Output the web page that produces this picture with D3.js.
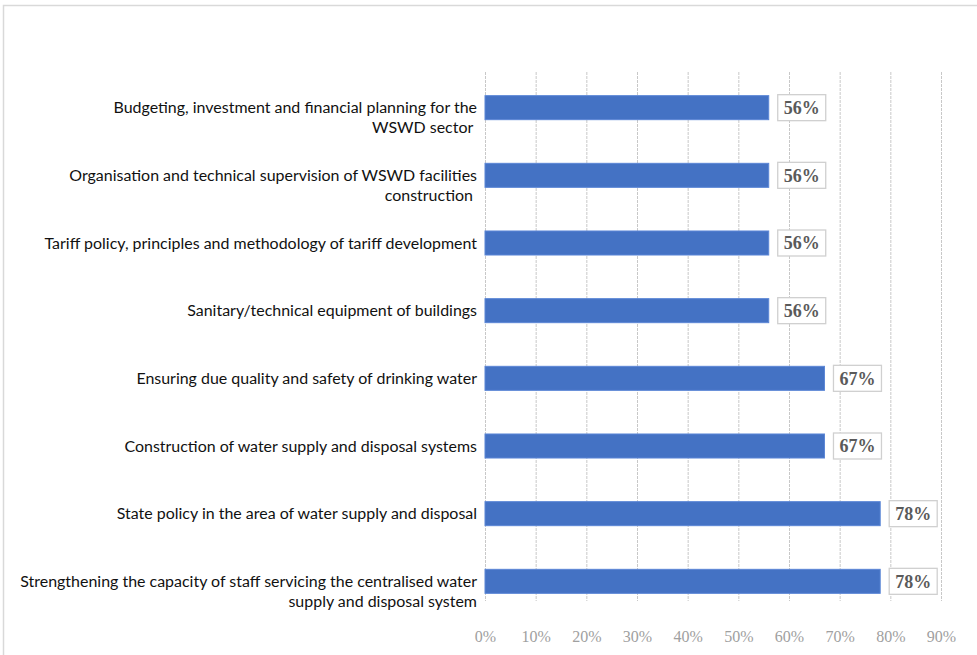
<!DOCTYPE html>
<html><head><meta charset="utf-8">
<script src="https://cdn.jsdelivr.net/npm/d3@7"></script>
<style>body{margin:0;background:#fff}svg{display:block}</style>
</head><body>
<svg id="chart" width="977" height="655"></svg>
<script>
const categories = [
  ["Budgeting, investment and financial planning for the", "WSWD sector "],
  ["Organisation and technical supervision of WSWD facilities", "construction "],
  ["Tariff policy, principles and methodology of tariff development"],
  ["Sanitary/technical equipment of buildings"],
  ["Ensuring due quality and safety of drinking water"],
  ["Construction of water supply and disposal systems"],
  ["State policy in the area of water supply and disposal"],
  ["Strengthening the capacity of staff servicing the centralised water", "supply and disposal system"]
];
const values = [56, 56, 56, 56, 67, 67, 78, 78];
const tickValues = [0, 10, 20, 30, 40, 50, 60, 70, 80, 90];
const tickLabels = ["0%", "10%", "20%", "30%", "40%", "50%", "60%", "70%", "80%", "90%"];

const svg = d3.select("#chart");
// frame
svg.append("path").attr("d", "M3.5,655 V5.5 H977").attr("fill", "none").attr("stroke", "#d9d9d9").attr("stroke-width", 1.5);

const x = d3.scaleLinear().domain([0, 90]).range([485, 941]);
const y = d3.scaleBand().domain(d3.range(categories.length)).range([74, 615]).paddingInner(0.645).paddingOuter(0.32);

// gridlines
svg.append("g").selectAll("line").data(tickValues).join("line")
  .attr("x1", d => x(d) + 0.5).attr("x2", d => x(d) + 0.5)
  .attr("y1", 72).attr("y2", 601)
  .attr("stroke", "#c8c8c8").attr("stroke-width", 1).attr("stroke-dasharray", "3,1");

// axis tick labels
const ax = svg.append("g").attr("transform", "translate(0,637)")
  .call(d3.axisBottom(x).tickValues(tickValues).tickFormat((d, i) => tickLabels[i]).tickSize(0).tickPadding(0));
ax.select(".domain").remove();
ax.selectAll("text").attr("font-family", "'Liberation Serif', 'DejaVu Serif', serif").attr("font-size", 16)
  .attr("fill", "#a0a0a0").attr("dy", "0.32em");

// bars
svg.append("g").selectAll("rect").data(values).join("rect")
  .attr("x", x(0)).attr("y", (d, i) => y(i))
  .attr("width", d => x(d) - x(0)).attr("height", y.bandwidth())
  .attr("fill", "#4472c4").attr("stroke", "#5b86d6").attr("stroke-width", 1);

// data labels
const lab = svg.append("g").selectAll("g").data(values).join("g")
  .attr("transform", (d, i) => `translate(${x(d) + 9},${y(i) + y.bandwidth() / 2})`);
lab.append("rect").attr("x", 0).attr("y", -13).attr("width", 48).attr("height", 26)
  .attr("fill", "#fff").attr("stroke", "#d0d0d0").attr("stroke-width", 1.3);
lab.append("text").attr("x", 24).attr("y", 0).attr("dy", "0.35em").attr("text-anchor", "middle")
  .attr("font-family", "'Liberation Serif', serif").attr("font-weight", "bold").attr("font-size", 18)
  .attr("fill", "#5a5a5a").text(d => d + "%");

// category labels
const cat = svg.append("g").selectAll("g").data(categories).join("g")
  .attr("transform", (d, i) => `translate(477,${y(i) + y.bandwidth() / 2})`);
cat.each(function(lines) {
  const t = d3.select(this).append("text").attr("text-anchor", "end")
    .attr("font-family", "Lato, 'Open Sans', sans-serif").attr("font-size", 14.6).attr("fill", "#111")
    .style("white-space", "pre");
  lines.forEach((l, k) => t.append("tspan").attr("x", 0).attr("y", k * 20).attr("dy", "0.35em").text(l));
});
// fit longest line width to ~457px
const longest = svg.selectAll("tspan").nodes().reduce((m, n) => Math.max(m, n.getComputedTextLength()), 0);
if (longest > 0) {
  const fs = 14.6 * 457 / longest;
  cat.selectAll("text").attr("font-size", fs);
}
</script>
</body></html>
